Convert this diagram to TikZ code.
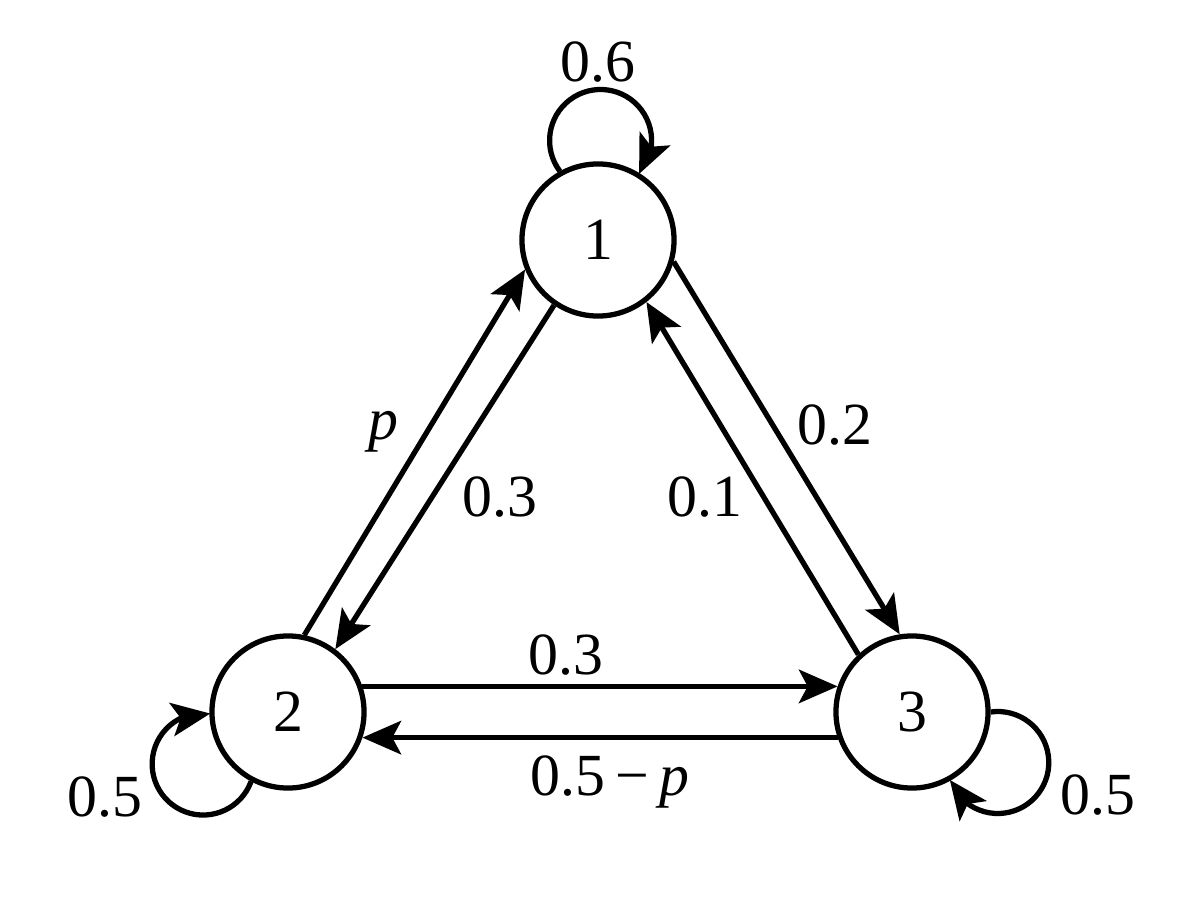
\documentclass[tikz,border=0pt]{standalone}
\usepackage{fontspec}
\setmainfont{Liberation Serif}
\usetikzlibrary{arrows.meta, bending, positioning}
\tikzset{
  statenode/.style={circle, draw, line width=1.5pt, minimum size=1.52cm,
                    inner sep=0pt, font=\fontsize{17}{20}\selectfont},
  trans/.style={-{Stealth[length=11pt, width=9.5pt, inset=2.5pt]}, line width=1.5pt},
  prob/.style={inner sep=0pt, font=\fontsize{17}{20}\selectfont},
}

\begin{document}
\begin{tikzpicture}[x=0.01cm, y=0.01cm]
    \useasboundingbox (0,0) rectangle (1200,896);
    % STATES
    \node[statenode] (n1) at (598,656) {1};
    \node[statenode] (n2) at (288,184) {2};
    \node[statenode] (n3) at (912,184) {3};
    % Transitions between states
    \draw[trans] (n1.236) -- (n2.53);
    \draw[trans] (n2.78) -- (n1.202);
    \draw[trans] (n1.-16) -- (n3.99);
    \draw[trans] (n3.133) -- (n1.-52);
    \draw[trans] (n2.19) -- (n3.161);
    \draw[trans] (n3.199) -- (n2.341);
    % Self loops
    \draw[trans] (n1.119) arc[start angle=217, end angle=-41, radius=51];
    \draw[trans] (n2.242) arc[start angle=340, end angle=82, radius=51];
    \draw[trans] (n3.0) arc[start angle=98, end angle=-160, radius=51];
    % Probabilities
    \node[prob] (l11) at (598,834) {0.6};
    \node[prob] (l22) at (105,99) {0.5};
    \node[prob] (l33) at (1098,101) {0.5};
    \node[prob] (l21) at (383,464) {\textit{p}};
    \node[prob] (l12) at (500,399) {0.3};
    \node[prob] (l31) at (705,399) {0.1};
    \node[prob] (l13) at (835,471) {0.2};
    \node[prob] (l23) at (566,241) {0.3};
    \node[prob] (l32) at (610,114) {0.5\,−\,\textit{p}};
\end{tikzpicture}
\end{document}
